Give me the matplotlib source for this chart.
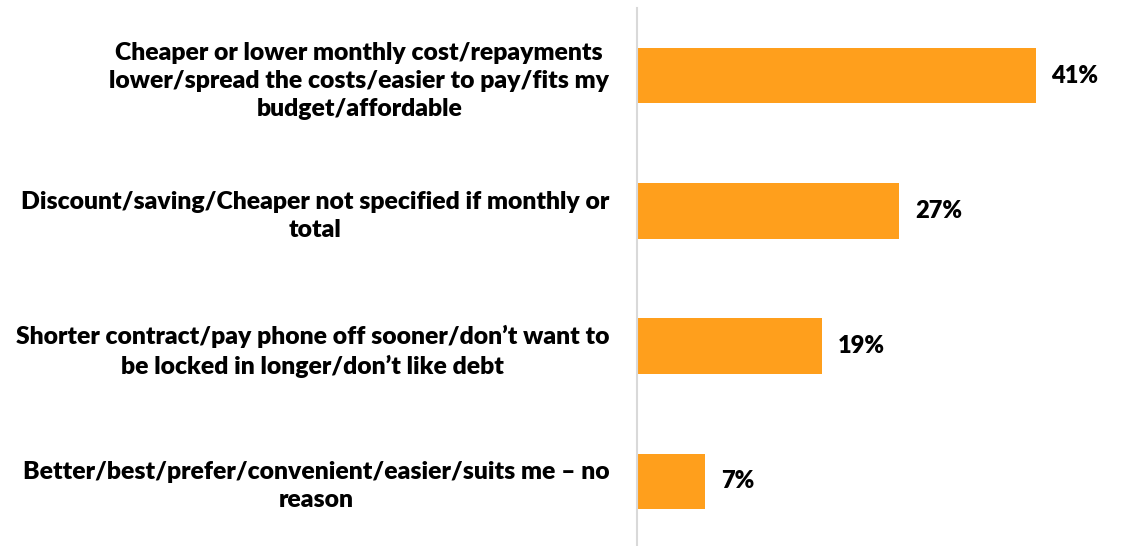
import numpy as np
import matplotlib
matplotlib.use('Agg')
import matplotlib.pyplot as plt

# data
categories = [
    "Cheaper or lower monthly cost/repayments\nlower/spread the costs/easier to pay/fits my\nbudget/affordable",
    "Discount/saving/Cheaper not specified if monthly or\ntotal",
    "Shorter contract/pay phone off sooner/don\u2019t want to\nbe locked in longer/don\u2019t like debt",
    "Better/best/prefer/convenient/easier/suits me \u2013 no\nreason",
]
values = [41, 27, 19, 7]
value_labels = ["41%", "27%", "19%", "7%"]

W, H = 1133, 546
fig = plt.figure(figsize=(W / 100, H / 100), dpi=100)
ax = fig.add_axes([637 / W, -3 / H, (1123 - 637) / W, 541 / H])

y = np.arange(len(values))
ax.barh(y, values, height=0.41, color='#FF9F1C', zorder=2)

for yi, v, lab in zip(y, values, value_labels):
    ax.annotate(lab, (v, yi), xytext=(11.5, 0), textcoords='offset points',
                va='center', ha='left', fontsize=17, fontweight='heavy',
                family='Lato', color='#000000')

ax.set_xlim(0, 50)
ax.set_ylim(len(values) - 0.5, -0.5)

ax.set_yticks(y)
ax.set_yticklabels(categories, fontsize=17.8, fontweight='heavy', family='Lato',
                   ha='right', multialignment='center', linespacing=1.33)
ax.tick_params(axis='y', length=0, pad=20)
ax.set_xticks([])

for s in ['top', 'right', 'bottom']:
    ax.spines[s].set_visible(False)
ax.spines['left'].set_color('#D9D9D9')
ax.spines['left'].set_linewidth(1.5)

fig.savefig('out.png', dpi=100)
